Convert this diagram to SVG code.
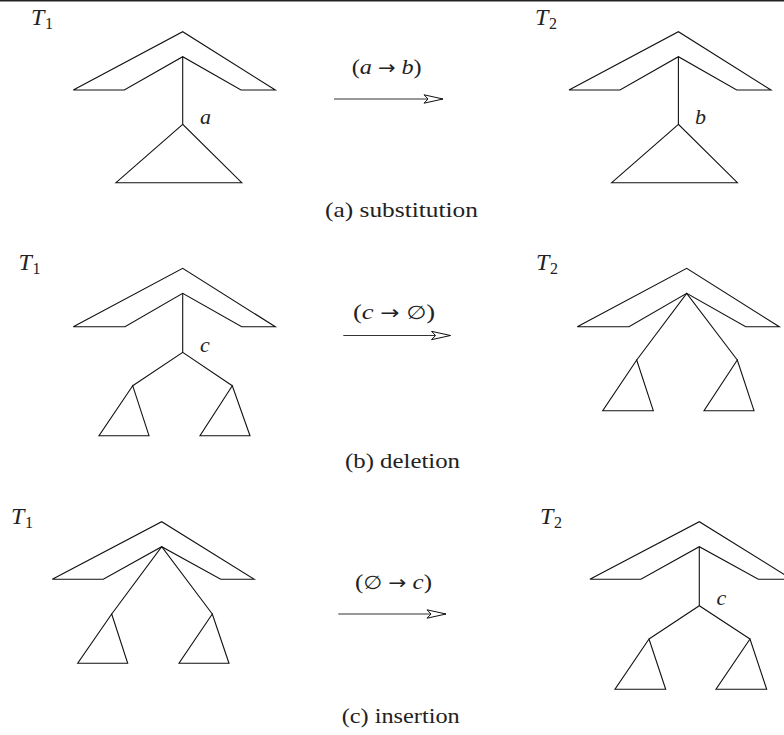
<svg xmlns="http://www.w3.org/2000/svg" width="784" height="735" viewBox="0 0 784 735">
<style>
  .ln { fill: none; stroke: #111; stroke-width: 1.1; stroke-linejoin: miter; }
  .txt { font-family: "Liberation Serif", "DejaVu Serif", serif; font-size: 22px; fill: #222; }
  .tl { font-family: "Liberation Serif", "DejaVu Serif", serif; font-size: 24px; font-style: italic; fill: #222; }
  .it { font-style: italic; }
  .sym { font-family: "DejaVu Sans", sans-serif; font-size: 19px; }
  .sub { font-family: "Liberation Serif", "DejaVu Serif", serif; font-size: 16px; fill: #222; }
  .arrow { fill: none; stroke: #333; stroke-width: 1.1; marker-end: url(#head); }
</style>
<defs>
  <marker id="head" viewBox="-20 -5 21 10" refX="0" refY="0" markerWidth="21" markerHeight="10" markerUnits="userSpaceOnUse" orient="auto">
    <path d="M0,0 L-19,-4.2 L-15,0 L-19,4.2 Z" fill="#fff" stroke="#111" stroke-width="1"/>
  </marker>
</defs>
<rect x="0" y="0" width="784" height="735" fill="#fff"/>
<line x1="0" y1="0.75" x2="784" y2="0.75" stroke="#222" stroke-width="1.5"/>

<!-- (a) substitution -->
<g id="a-T1">
  <text class="tl" x="31" y="25">T</text><text class="sub" x="45" y="28.5">1</text>
  <polygon class="ln" points="73.3,90 182.7,31.7 275.3,90 241,90 182.7,56.7 124.3,90"/>
  <line class="ln" x1="182.7" y1="56.7" x2="182.7" y2="124.3"/>
  <polygon class="ln" points="182.7,124.3 116,182.7 241.7,182.7"/>
  <text class="txt it" x="200" y="123.5">a</text>
</g>
<g id="a-T2">
  <text class="tl" x="535" y="25">T</text><text class="sub" x="549" y="28.5">2</text>
  <polygon class="ln" points="569,90 678.4,31.7 771,90 736.7,90 678.4,56.7 620,90"/>
  <line class="ln" x1="678.4" y1="56.7" x2="678.4" y2="124.3"/>
  <polygon class="ln" points="678.4,124.3 611.7,182.7 737.4,182.7"/>
  <text class="txt it" x="695" y="123.5">b</text>
</g>
<text id="a-op" class="txt" x="351.7" y="73.5" textLength="70" lengthAdjust="spacingAndGlyphs">(<tspan class="it">a</tspan> <tspan class="sym">→</tspan> <tspan class="it">b</tspan>)</text>
<text id="a-cap" class="txt" x="325" y="217" textLength="153" lengthAdjust="spacingAndGlyphs">(a)  substitution</text>

<!-- (b) deletion -->
<g id="b-T1">
  <text class="tl" x="18.5" y="270">T</text><text class="sub" x="32.5" y="273.5">1</text>
  <polygon class="ln" points="73.3,326.7 182.7,268.3 275.3,326.7 241.7,326.7 182.7,293.3 125,326.7"/>
  <polyline class="ln" points="182.7,293.3 182.7,352.3"/>
  <polyline class="ln" points="132.7,385.7 182.7,352.3 232.3,385.7"/>
  <polygon class="ln" points="132.7,385.7 99,435.7 149,435.7"/>
  <polygon class="ln" points="232.3,385.7 200,435.7 250,435.7"/>
  <text class="txt it" x="200" y="352">c</text>
</g>
<g id="b-T2">
  <text class="tl" x="536" y="270">T</text><text class="sub" x="550" y="273.5">2</text>
  <polygon class="ln" points="577.3,326.7 686.7,268.3 779.3,326.7 745.7,326.7 686.7,293.3 629,326.7"/>
  <polyline class="ln" points="636.7,360 686.7,293.3 737.3,360"/>
  <polygon class="ln" points="636.7,360 602.7,410.7 653.3,410.7"/>
  <polygon class="ln" points="737.3,360 704,410.7 754,410.7"/>
</g>
<text id="b-op" class="txt" x="353" y="318.5" textLength="82" lengthAdjust="spacingAndGlyphs">(<tspan class="it">c</tspan> <tspan class="sym">→</tspan> <tspan class="sym">∅</tspan>)</text>
<text id="b-cap" class="txt" x="345" y="467.5" textLength="115" lengthAdjust="spacingAndGlyphs">(b)  deletion</text>

<!-- (c) insertion -->
<g id="c-T1">
  <text class="tl" x="11" y="524">T</text><text class="sub" x="25" y="527.5">1</text>
  <polygon class="ln" points="52.3,579.3 161.7,521.7 254.3,579.3 220.7,579.3 161.7,546.7 103.3,579.3"/>
  <polyline class="ln" points="111.7,614 161.7,546.7 212.3,614"/>
  <polygon class="ln" points="111.7,614 77.7,663.3 127.7,663.3"/>
  <polygon class="ln" points="212.3,614 179,663.3 229,663.3"/>
</g>
<g id="c-T2">
  <text class="tl" x="540" y="524">T</text><text class="sub" x="554" y="527.5">2</text>
  <polygon class="ln" points="589.9,579.3 699.3,521.7 791.9,579.3 758.3,579.3 699.3,546.7 640.9,579.3"/>
  <polyline class="ln" points="699.3,546.7 699.3,605.7"/>
  <polyline class="ln" points="649,639 699.3,605.7 750,639"/>
  <polygon class="ln" points="649,639 615,689.3 665.7,689.3"/>
  <polygon class="ln" points="750,639 716,689.3 766.7,689.3"/>
  <text class="txt it" x="716.5" y="605">c</text>
</g>
<text id="c-op" class="txt" x="355" y="588.5" textLength="77" lengthAdjust="spacingAndGlyphs">(<tspan class="sym">∅</tspan> <tspan class="sym">→</tspan> <tspan class="it">c</tspan>)</text>
<text id="c-cap" class="txt" x="341.7" y="722.5" textLength="118" lengthAdjust="spacingAndGlyphs">(c)  insertion</text>

<g id="connectors">
  <line class="arrow" x1="334" y1="99" x2="443" y2="99"/>
  <line class="arrow" x1="343.3" y1="335.5" x2="450.5" y2="335.5"/>
  <line class="arrow" x1="338.3" y1="614" x2="446" y2="614"/>
</g>
</svg>
